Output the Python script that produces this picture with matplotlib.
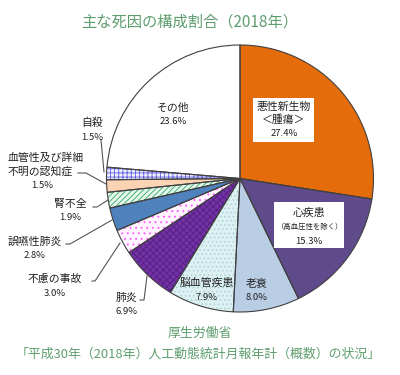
import matplotlib
matplotlib.use("Agg")

import matplotlib.pyplot as plt
from matplotlib.patches import Rectangle

plt.rcParams["font.family"] = ["Noto Sans CJK JP", "DejaVu Sans"]
plt.rcParams["hatch.linewidth"] = 0.6

# data (clockwise from 12 o'clock)
causes = ["悪性新生物", "心疾患", "老衰", "脳血管疾患", "肺炎", "不慮の事故",
          "誤嚥性肺炎", "腎不全", "血管性及び詳細不明の認知症", "自殺", "その他"]
shares = [27.4, 15.3, 8.0, 7.9, 6.9, 3.0, 2.8, 1.9, 1.5, 1.5, 23.6]
share_labels = ["27.4%", "15.3%", "8.0%", "7.9%", "6.9%", "3.0%",
                "2.8%", "1.9%", "1.5%", "1.5%", "23.6%"]

faces = ["#E46C0A", "#5F4B8B", "#B9CDE5", "#DDF1F3", "#7232A2", "#FFF4FF",
         "#4F81BD", "#E6F7EC", "#FBD4B4", "#EEEEFF", "#FFFFFF"]
hatches = [None, None, None, "....", "xxxxx", "...", None, "//////", None, "++++", None]
hatch_cols = [None, None, None, "#A8D0D8", "#541E86", "#FF55FF", None, "#2FA866", None, "#6060E0", None]

H = 375


def Y(y):
    return H - y


fig = plt.figure(figsize=(4.0, 3.75), dpi=100)
ax = fig.add_axes([0, 0, 1, 1])

cx, cy, r = 240, 178.5, 133.5

wedges, _ = ax.pie(shares, startangle=90, counterclock=False, center=(cx, Y(cy)),
                   radius=r, colors=faces, wedgeprops=dict(linewidth=0))
for w, h, hc in zip(wedges, hatches, hatch_cols):
    if h:
        w.set_hatch(h)
        w.set_edgecolor(hc)
# outlines on top
ax.pie(shares, startangle=90, counterclock=False, center=(cx, Y(cy)), radius=r,
       colors=["none"] * len(shares),
       wedgeprops=dict(edgecolor="#404040", linewidth=0.8, fill=False))

ax.set_xlim(0, 400)
ax.set_ylim(0, H)
ax.set_aspect("equal")
ax.axis("off")

name_fs = 7.8
pct_fs = 6.8
txt = "#222222"

# white boxes behind the two big labels
ax.add_patch(Rectangle((253, Y(142)), 61, 44, fc="white", ec="none", zorder=3))
ax.add_patch(Rectangle((274, Y(248)), 70, 46, fc="white", ec="none", zorder=3))

ax.text(284, Y(107), causes[0], ha="center", va="center", fontsize=name_fs, color=txt, zorder=4)
ax.text(284, Y(120), "＜腫瘍＞", ha="center", va="center", fontsize=name_fs, color=txt, zorder=4)
ax.text(284, Y(134), share_labels[0], ha="center", va="center", fontsize=pct_fs, color=txt, zorder=4)

ax.text(309, Y(213), causes[1], ha="center", va="center", fontsize=name_fs, color=txt, zorder=4)
ax.text(310, Y(227), "（高血圧性を除く）", ha="center", va="center", fontsize=5.3, color=txt, zorder=4)
ax.text(309, Y(241), share_labels[1], ha="center", va="center", fontsize=pct_fs, color=txt, zorder=4)

# other labels: (name, pct, x, y_name)
plain = [
    (causes[2], share_labels[2], 257, 284),
    (causes[3], share_labels[3], 207, 283),
    (causes[4], share_labels[4], 127, 298),
    (causes[5], share_labels[5], 55, 279),
    (causes[6], share_labels[6], 35, 242),
    (causes[7], share_labels[7], 70, 204),
    (causes[9], share_labels[9], 92, 123),
    (causes[10], share_labels[10], 173, 108),
]
for name, pct, x, y in plain:
    ax.text(x, Y(y), name, ha="center", va="center", fontsize=name_fs, color=txt)
    ax.text(x, Y(y + 14), pct, ha="center", va="center", fontsize=pct_fs, color=txt)

ax.text(46, Y(158), "血管性及び詳細", ha="center", va="center", fontsize=name_fs, color=txt)
ax.text(40, Y(171), "不明の認知症", ha="center", va="center", fontsize=name_fs, color=txt)
ax.text(42, Y(185), share_labels[8], ha="center", va="center", fontsize=pct_fs, color=txt)

# leader lines
leaders = [
    [(101, 140), (104, 172)],
    [(78, 173), (86, 173), (106, 184)],
    [(93, 207), (97, 207), (108, 200)],
    [(66, 244), (70, 244), (112, 220)],
    [(92, 281), (95, 281), (120, 243)],
    [(140, 300), (144, 300), (147, 276)],
]
for pts in leaders:
    ax.plot([p[0] for p in pts], [Y(p[1]) for p in pts], color="#555555", lw=0.8)

green = "#5E9E6E"
ax.text(190, Y(22), "主な死因の構成割合（2018年）", ha="center", va="center",
        fontsize=11, color=green)
ax.text(200, Y(333), "厚生労働省", ha="center", va="center", fontsize=9.3, color=green)
ax.text(198, Y(354), "「平成30年（2018年）人工動態統計月報年計（概数）の状況」", ha="center",
        va="center", fontsize=9.3, color=green)

fig.savefig("out.png", dpi=100)
